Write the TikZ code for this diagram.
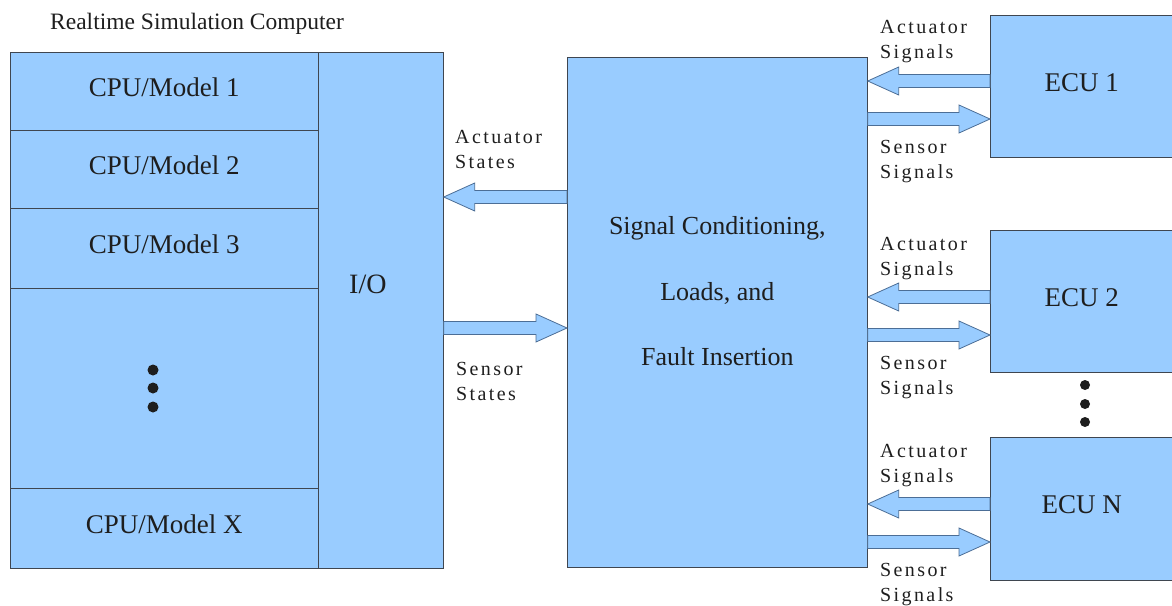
\documentclass[tikz,border=0pt]{standalone}
\usepackage{fontspec}
\setmainfont{Liberation Serif}
\newfontfamily\lblfont[LetterSpace=12]{Liberation Serif}
\usetikzlibrary{calc}

\definecolor{hilblue}{HTML}{99CCFF}
\definecolor{edgegray}{HTML}{3F4650}
\definecolor{arrowedge}{HTML}{4C6E96}
\definecolor{txtgray}{HTML}{1E1E1E}

% block arrow between two node anchors, at a given height
\newcommand\fatarrow[3]{%
  \draw[fat] let \p1=(#1), \p2=(#2), \p3=(0,#3), \n1={31*sign(\x2-\x1)} in
    (\x1,{\y3+6.5}) -- ({\x2-(\n1)},{\y3+6.5}) -- ({\x2-(\n1)},{\y3+14})
    -- (\x2,\y3) -- ({\x2-(\n1)},{\y3-14}) -- ({\x2-(\n1)},{\y3-6.5})
    -- (\x1,{\y3-6.5}) -- cycle;}

\begin{document}
\begin{tikzpicture}[
  x=1pt, y=-1pt,
  box/.style={draw=edgegray, fill=hilblue, line width=0.7pt, inner sep=0pt,
    anchor=north west, text=txtgray, font=\fontsize{27}{30}\selectfont,
    text height=18pt, text depth=8pt},
  fat/.style={draw=arrowedge, fill=hilblue, line width=0.8pt},
  lbl/.style={font=\lblfont\fontsize{20}{24.5}\selectfont, text=txtgray,
    align=left, anchor=base west, inner sep=0pt},
  dot/.style={fill=txtgray}
]
\useasboundingbox (0,0) rectangle (1172,605);

\node (title) [anchor=base west, inner sep=0pt, text=txtgray,
  font=\fontsize{23.5}{26}\selectfont] at (50,29) {Realtime Simulation Computer};

\node (cpu1) [box, minimum width=308pt, minimum height=78pt] at (10,52) {CPU/Model 1};
\node (cpu2) [box, minimum width=308pt, minimum height=78pt] at (10,130) {CPU/Model 2};
\node (cpu3) [box, minimum width=308pt, minimum height=80pt] at (10,208) {CPU/Model 3};
\node (cpudots) [box, minimum width=308pt, minimum height=200pt] at (10,288) {};
\node (cpux) [box, minimum width=308pt, minimum height=80pt] at (10,488) {CPU/Model X};
\node (io) [box, minimum width=125pt, minimum height=516pt] at (318,52) {};
\node (iotext) [anchor=base, text=txtgray, font=\fontsize{28}{30}\selectfont]
  at ([xshift=-13pt, yshift=17pt]io.center) {I/O};
\foreach \y in {370,388,407}
  \fill[dot] (153,\y) circle (5.5pt);

\node (cond) [box, minimum width=300pt, minimum height=510pt] at (567,57) {};
\node (condtext) [align=center, text=txtgray, font=\fontsize{26}{65.5}\selectfont]
  at ([yshift=21pt]cond.center) {Signal Conditioning,\\Loads, and\\Fault Insertion};

\node (ecu1) [box, minimum width=183pt, minimum height=142pt] at (990,15) {ECU 1};
\node (ecu2) [box, minimum width=183pt, minimum height=142pt] at (990,230) {ECU 2};
\node (ecuN) [box, minimum width=183pt, minimum height=143pt] at (990,437) {ECU N};
\foreach \y in {385,404,422}
  \fill[dot] (1085,\y) circle (5pt);

\fatarrow{cond.west}{io.east}{197}
\fatarrow{io.east}{cond.west}{328}
\node (actstates) [lbl] at (455,168) {Actuator\\States};
\node (senstates) [lbl] at (456,400) {Sensor\\States};

\foreach \e/\ya/\ys/\la/\ls in {ecu1/81/119/58/178, ecu2/297/335/275/394, ecuN/504/542/482/601} {
  \fatarrow{\e.west}{cond.east}{\ya}
  \fatarrow{cond.east}{\e.west}{\ys}
  \node [lbl] at (880,\la) {Actuator\\Signals};
  \node [lbl] at (880,\ls) {Sensor\\Signals};
}
\end{tikzpicture}
\end{document}
